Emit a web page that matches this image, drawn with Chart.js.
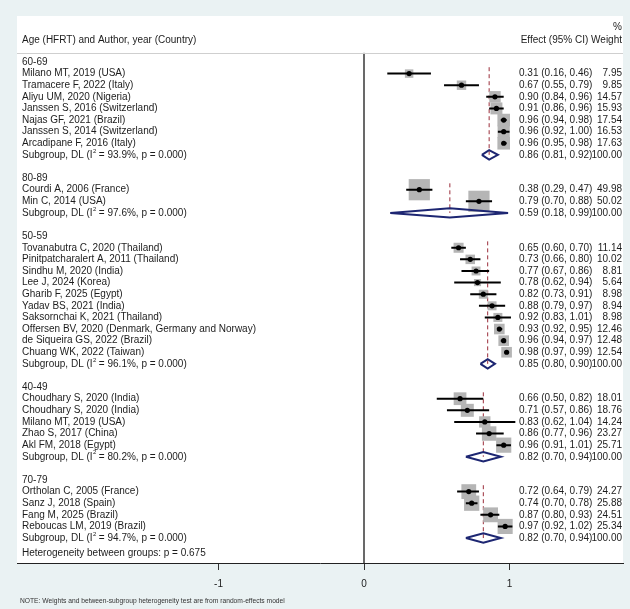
<!DOCTYPE html>
<html>
<head>
<meta charset="utf-8">
<script src="https://cdn.jsdelivr.net/npm/chart.js@4/dist/chart.umd.min.js"></script>
<style>
  html, body { margin: 0; padding: 0; background: #eaf2f3; }
  canvas { display: block; }
</style>
</head>
<body>
<canvas id="c" width="630" height="609"></canvas>
<script>
// ---------------- DATA ----------------
const groupNames = ["60-69", "80-89", "50-59", "40-49", "70-79"];

const studyLabels = [
  "Milano MT, 2019 (USA)", "Tramacere F, 2022 (Italy)", "Aliyu UM, 2020 (Nigeria)",
  "Janssen S, 2016 (Switzerland)", "Najas GF, 2021 (Brazil)", "Janssen S, 2014 (Switzerland)",
  "Arcadipane F, 2016 (Italy)",
  "Courdi A, 2006 (France)", "Min C, 2014 (USA)",
  "Tovanabutra C, 2020 (Thailand)", "Pinitpatcharalert A, 2011 (Thailand)", "Sindhu M, 2020 (India)",
  "Lee J, 2024 (Korea)", "Gharib F, 2025 (Egypt)", "Yadav BS, 2021 (India)",
  "Saksornchai K, 2021 (Thailand)", "Offersen BV, 2020 (Denmark, Germany and Norway)",
  "de Siqueira GS, 2022 (Brazil)", "Chuang WK, 2022 (Taiwan)",
  "Choudhary S, 2020 (India)", "Choudhary S, 2020 (India)", "Milano MT, 2019 (USA)",
  "Zhao S, 2017 (China)", "Akl FM, 2018 (Egypt)",
  "Ortholan C, 2005 (France)", "Sanz J, 2018 (Spain)", "Fang M, 2025 (Brazil)",
  "Reboucas LM, 2019 (Brazil)"
];
const studyGroup = [0,0,0,0,0,0,0, 1,1, 2,2,2,2,2,2,2,2,2,2, 3,3,3,3,3, 4,4,4,4];
const studyEffect = [0.31,0.67,0.90,0.91,0.96,0.96,0.96, 0.38,0.79,
  0.65,0.73,0.77,0.78,0.82,0.88,0.92,0.93,0.96,0.98,
  0.66,0.71,0.83,0.86,0.96, 0.72,0.74,0.87,0.97];
const studyLower = [0.16,0.55,0.84,0.86,0.94,0.92,0.95, 0.29,0.70,
  0.60,0.66,0.67,0.62,0.73,0.79,0.83,0.92,0.94,0.97,
  0.50,0.57,0.62,0.77,0.91, 0.64,0.70,0.80,0.92];
const studyUpper = [0.46,0.79,0.96,0.96,0.98,1.00,0.98, 0.47,0.88,
  0.70,0.80,0.86,0.94,0.91,0.97,1.01,0.95,0.97,0.99,
  0.82,0.86,1.04,0.96,1.01, 0.79,0.78,0.93,1.02];
const studyWeight = [7.95,9.85,14.57,15.93,17.54,16.53,17.63, 49.98,50.02,
  11.14,10.02,8.81,5.64,8.98,8.94,8.98,12.46,12.48,12.54,
  18.01,18.76,14.24,23.27,25.71, 24.27,25.88,24.51,25.34];

const subgroupI2 = ["93.9", "97.6", "96.1", "80.2", "94.7"];
const subgroupP = ["0.000", "0.000", "0.000", "0.000", "0.000"];
const subgroupEffect = [0.86, 0.59, 0.85, 0.82, 0.82];
const subgroupLower = [0.81, 0.18, 0.80, 0.70, 0.70];
const subgroupUpper = [0.92, 0.99, 0.90, 0.94, 0.94];
const subgroupWeight = [100, 100, 100, 100, 100];

const heterogeneityText = "Heterogeneity between groups: p = 0.675";
const noteText = "NOTE: Weights and between-subgroup heterogeneity test are from random-effects model";
const xTickValues = [-1, 0, 1];

// ---------------- LAYOUT (rows) ----------------
const headerRow = [], subRow = [], studyRow = [];
let r = 0;
groupNames.forEach((g, gi) => {
  headerRow[gi] = r++;
  studyLabels.forEach((s, si) => { if (studyGroup[si] === gi) studyRow[si] = r++; });
  subRow[gi] = r++;
  r++;
});
const hetRow = r - 0.65;

const FONT = '"Liberation Sans", Arial, sans-serif';
const FS = 10;
const TXT = '#1c1c1c';
const f2 = v => v.toFixed(2);

// datasets
const boxes = studyEffect.map((e, i) => ({ x: e, y: studyRow[i], w: studyWeight[i] }));
const dots = studyEffect.map((e, i) => ({ x: e, y: studyRow[i] }));
const ciSeg = [];
studyEffect.forEach((e, i) => {
  ciSeg.push({ x: studyLower[i], y: studyRow[i] }, { x: studyUpper[i], y: studyRow[i] }, { x: e, y: null });
});
const diamonds = [];
const dh = 0.4;
subgroupEffect.forEach((e, g) => {
  const y = subRow[g];
  diamonds.push({ x: subgroupLower[g], y }, { x: e, y: y - dh }, { x: subgroupUpper[g], y },
                { x: e, y: y + dh }, { x: subgroupLower[g], y }, { x: e, y: null });
});
const dashed = [];
subgroupEffect.forEach((e, g) => {
  dashed.push({ x: e, y: headerRow[g] + 0.45 }, { x: e, y: subRow[g] }, { x: e, y: null });
});
const Y_MIN = -3.96, Y_MAX = 43.15;
const zeroLine = [{ x: 0, y: -0.78 }, { x: 0, y: Y_MAX }];

const panelPlugin = {
  id: 'panel',
  beforeDraw(chart) {
    const { ctx, chartArea: a } = chart;
    ctx.save();
    ctx.fillStyle = '#eaf2f3';
    ctx.fillRect(0, 0, chart.width, chart.height);
    ctx.fillStyle = '#ffffff';
    ctx.fillRect(a.left, a.top, a.right - a.left, a.bottom - a.top);
    ctx.restore();
  },
  afterDatasetsDraw(chart) {
    const { ctx, chartArea: a, scales: { y } } = chart;
    const Y = v => y.getPixelForValue(v);
    ctx.save();
    // header separator
    ctx.strokeStyle = '#cfcfcf';
    ctx.lineWidth = 1.2;
    ctx.beginPath();
    ctx.moveTo(a.left, Math.round(Y(-0.78)) + 0.5);
    ctx.lineTo(a.right, Math.round(Y(-0.78)) + 0.5);
    ctx.stroke();

    const font = FS + 'px ' + FONT;
    ctx.fillStyle = TXT;
    ctx.font = font;
    ctx.textBaseline = 'middle';
    const xL = a.left + 5, xE = 519, xW = a.right - 1;
    // headers
    ctx.textAlign = 'right';
    ctx.fillText('Effect (95% CI) Weight', xW, Y(-1.9));
    ctx.fillText('%', xW, Y(-2.95));
    ctx.textAlign = 'left';
    ctx.fillText('Age (HFRT) and Author, year (Country)', xL, Y(-1.9));

    const effStr = (e, l, u) => f2(e) + ' (' + f2(l) + ', ' + f2(u) + ')';
    groupNames.forEach((g, gi) => {
      ctx.textAlign = 'left';
      ctx.fillText(g, xL, Y(headerRow[gi]));
      // subgroup label with superscript 2
      const yy = Y(subRow[gi]);
      const p1 = 'Subgroup, DL (I';
      ctx.fillText(p1, xL, yy);
      let w1 = ctx.measureText(p1).width;
      ctx.font = '6px ' + FONT;
      ctx.fillText('2', xL + w1 + 0.5, yy - 4);
      ctx.font = font;
      ctx.fillText(' = ' + subgroupI2[gi] + '%, p = ' + subgroupP[gi] + ')', xL + w1 + 3.5, yy);
      ctx.fillText(effStr(subgroupEffect[gi], subgroupLower[gi], subgroupUpper[gi]), xE, yy);
      ctx.textAlign = 'right';
      ctx.fillText(subgroupWeight[gi].toFixed(2), xW, yy);
    });
    studyLabels.forEach((s, i) => {
      const yy = Y(studyRow[i]);
      ctx.textAlign = 'left';
      ctx.fillText(s, xL, yy);
      ctx.fillText(effStr(studyEffect[i], studyLower[i], studyUpper[i]), xE, yy);
      ctx.textAlign = 'right';
      ctx.fillText(studyWeight[i].toFixed(2), xW, yy);
    });
    ctx.textAlign = 'left';
    ctx.fillText(heterogeneityText, xL, Y(hetRow));
    // note
    ctx.font = '6.7px ' + FONT;
    ctx.fillStyle = '#333';
    ctx.fillText(noteText, a.left + 3, 601);
    ctx.restore();
  }
};

new Chart(document.getElementById('c'), {
  type: 'scatter',
  data: {
    datasets: [
      { label: 'zero', data: zeroLine, showLine: true, borderColor: '#555', borderWidth: 1, pointRadius: 0, order: 10 },
      { label: 'pooled', data: dashed, showLine: true, borderColor: '#9b2d3a', borderWidth: 1, borderDash: [4, 3], pointRadius: 0, order: 9 },
      { label: 'boxes', data: boxes, pointStyle: 'rect', backgroundColor: '#b5b5b5', borderWidth: 0,
        pointRadius: ctx => ctx.raw ? 3.0 * Math.sqrt(ctx.raw.w) / Math.SQRT2 : 0, order: 8 },
      { label: 'ci', data: ciSeg, showLine: true, borderColor: '#000', borderWidth: 2, pointRadius: 0, order: 7 },
      { label: 'dots', data: dots, pointStyle: 'circle', backgroundColor: '#000', borderWidth: 0, pointRadius: 2.6, order: 6 },
      { label: 'diamonds', data: diamonds, showLine: true, borderColor: '#1d2672', borderWidth: 2, pointRadius: 0, order: 5 }
    ]
  },
  options: {
    responsive: false,
    animation: false,
    devicePixelRatio: 1,
    events: [],
    layout: { autoPadding: false, padding: { left: 17, right: 7, top: 16, bottom: 0 } },
    plugins: { legend: { display: false }, tooltip: { enabled: false } },
    scales: {
      x: {
        type: 'linear', min: -2.385, max: 1.78,
        afterBuildTicks: s => { s.ticks = xTickValues.map(v => ({ value: v })); },
        afterFit: s => { s.height = 46; },
        grid: { drawOnChartArea: false, drawTicks: true, tickLength: 7, tickColor: '#333', tickWidth: 1 },
        border: { color: '#222', width: 1 },
        ticks: { color: TXT, font: { family: FONT, size: FS }, padding: 8, maxRotation: 0, autoSkip: false }
      },
      y: { type: 'linear', reverse: true, min: Y_MIN, max: Y_MAX, display: false }
    }
  },
  plugins: [panelPlugin]
});
</script>
</body>
</html>
